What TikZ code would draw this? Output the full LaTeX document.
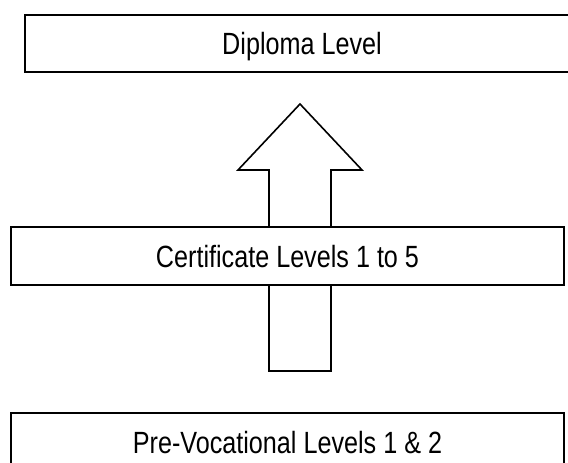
\documentclass[tikz,border=0pt]{standalone}
\usepackage{fontspec}
\setmainfont{Liberation Sans}[FakeStretch=0.82]
\begin{document}
\begin{tikzpicture}[x=1pt,y=-1pt,
  levelbox/.style={draw=black,line width=1.6pt,fill=white,
    minimum width=553pt,minimum height=58pt,inner sep=0pt,
    text height=22pt,text depth=0pt,
    font=\fontsize{30.7}{36}\selectfont},
  blockarrow/.style={draw=black,line width=1.6pt,fill=white,line join=miter}]
  \useasboundingbox (0,0) rectangle (568,463);
  % upward block arrow, partly hidden behind the middle level
  \coordinate (tip) at (300,104);
  \draw[blockarrow] (tip) -- (362,170) -- (331,170) -- (331,371)
    -- (269,371) -- (269,170) -- (238,170) -- cycle;
  \node[levelbox,minimum width=554pt,minimum height=57pt] (diploma) at (302,43.5) {Diploma Level};
  \node[levelbox] (cert) at (287.5,256) {Certificate Levels 1 to 5};
  \node[levelbox] (prevoc) at (287.5,442) {Pre-Vocational Levels 1 \& 2};
\end{tikzpicture}
\end{document}
